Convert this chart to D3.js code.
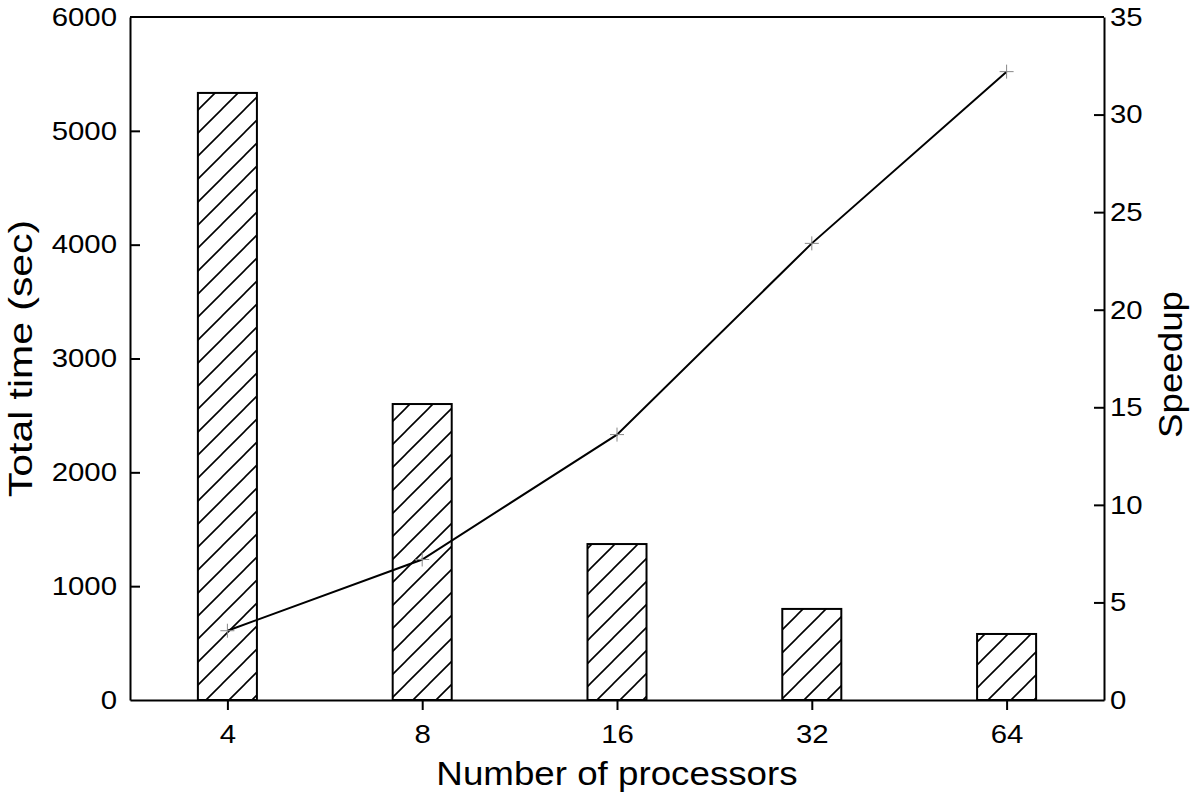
<!DOCTYPE html>
<html>
<head>
<meta charset="utf-8">
<script src="https://cdn.jsdelivr.net/npm/d3@7"></script>
<style>
  body { margin: 0; background: #fff; }
  text { font-family: "Liberation Sans", Arial, sans-serif; fill: #000; }
</style>
</head>
<body>
<div id="chart"></div>
<script>
// data
var processors = ["4", "8", "16", "32", "64"];
var totalTime = [5333, 2600, 1370, 800, 580];
var speedup = [3.55, 7.2, 13.6, 23.4, 32.2];
var timeTicks = [0, 1000, 2000, 3000, 4000, 5000, 6000];
var speedupTicks = [0, 5, 10, 15, 20, 25, 30, 35];

var svgWidth = 1194;
var svgHeight = 796;
var margin = { top: 17, right: 90, bottom: 96, left: 130 };
var width = svgWidth - margin.left - margin.right;
var height = svgHeight - margin.top - margin.bottom;
var stretch = 1.13; // glyphs in the reference are a bit wider than Arial

var svg = d3.select("#chart").append("svg")
  .attr("width", svgWidth)
  .attr("height", svgHeight);

// hatch pattern for the bars
var pat = svg.append("defs").append("pattern")
  .attr("id", "hatch")
  .attr("patternUnits", "userSpaceOnUse")
  .attr("width", 23)
  .attr("height", 23);
pat.append("rect").attr("width", 23).attr("height", 23).attr("fill", "#fff");
pat.append("path")
  .attr("d", "M0,23 L23,0 M-3,3 L3,-3 M20,26 L26,20")
  .attr("stroke", "#000")
  .attr("stroke-width", 1.6);

var chartGroup = svg.append("g")
  .attr("transform", `translate(${margin.left}, ${margin.top})`);

var xScale = d3.scalePoint().domain(processors).range([0, width]).padding(0.5);
var barWidth = xScale.step() * 0.303;
var yTime = d3.scaleLinear().domain([0, 6000]).range([height, 0]);
var ySpeed = d3.scaleLinear().domain([0, 35]).range([height, 0]);

// bars
chartGroup.selectAll("rect.bar")
  .data(totalTime)
  .enter()
  .append("rect")
  .attr("class", "bar")
  .attr("x", (d, i) => xScale(processors[i]) - barWidth / 2)
  .attr("y", d => yTime(d))
  .attr("width", barWidth)
  .attr("height", d => height - yTime(d))
  .attr("fill", "url(#hatch)")
  .attr("stroke", "#000")
  .attr("stroke-width", 2);

// speedup line
var line = d3.line()
  .x((d, i) => xScale(processors[i]))
  .y(d => ySpeed(d));

chartGroup.append("path")
  .datum(speedup)
  .attr("d", line)
  .attr("fill", "none")
  .attr("stroke", "#000")
  .attr("stroke-width", 2);

// "+" markers
var marks = chartGroup.selectAll("g.mark")
  .data(speedup)
  .enter()
  .append("g")
  .attr("class", "mark")
  .attr("transform", (d, i) => `translate(${xScale(processors[i])}, ${ySpeed(d)})`);
marks.append("path")
  .attr("d", "M-7,0 H7 M0,-7 V7")
  .attr("stroke", "#888")
  .attr("stroke-width", 1);

// axes
var leftAxis = d3.axisLeft(yTime).tickValues(timeTicks).tickFormat(d3.format("d"))
  .tickSizeInner(-10).tickSizeOuter(0).tickPadding(13);
var rightAxis = d3.axisRight(ySpeed).tickValues(speedupTicks).tickFormat(d3.format("d"))
  .tickSizeInner(-10).tickSizeOuter(0).tickPadding(6);
var bottomAxis = d3.axisBottom(xScale).tickSizeInner(10).tickSizeOuter(0).tickPadding(15);

var gl = chartGroup.append("g").call(leftAxis);
var gr = chartGroup.append("g").attr("transform", `translate(${width}, 0)`).call(rightAxis);
var gb = chartGroup.append("g").attr("transform", `translate(0, ${height})`).call(bottomAxis);

[gl, gr, gb].forEach(function(g) {
  g.selectAll(".domain").attr("stroke-width", 2);
  g.selectAll(".tick line").attr("stroke-width", 2);
  g.selectAll(".tick text")
    .attr("font-size", 26)
    .attr("font-family", "Liberation Sans, Arial, sans-serif");
});
gl.selectAll(".tick").filter(d => d === 0 || d === 6000).select("line").remove();
gr.selectAll(".tick").filter(d => d === 0 || d === 35).select("line").remove();

// top border
chartGroup.append("line")
  .attr("x1", 0).attr("x2", width)
  .attr("y1", 0).attr("y2", 0)
  .attr("stroke", "#000")
  .attr("stroke-width", 2);

// axis titles
svg.append("text")
  .attr("x", margin.left + width / 2)
  .attr("y", 785)
  .attr("text-anchor", "middle")
  .attr("font-size", 32.5)
  .text("Number of processors");

svg.append("text")
  .attr("class", "ytitle")
  .attr("transform", `translate(32, ${margin.top + height / 2}) rotate(-90)`)
  .attr("text-anchor", "middle")
  .attr("font-size", 33)
  .text("Total time (sec)");

svg.append("text")
  .attr("transform", `translate(1182, ${margin.top + height / 2 + 6}) rotate(-90)`)
  .attr("text-anchor", "middle")
  .attr("font-size", 32.5)
  .text("Speedup");

// widen all text a bit to match the reference glyphs
svg.selectAll("text").each(function() {
  var w = this.getComputedTextLength();
  var f = d3.select(this).classed("ytitle") ? 1.24 : stretch;
  d3.select(this)
    .attr("textLength", w * f)
    .attr("lengthAdjust", "spacingAndGlyphs");
});
</script>
</body>
</html>
